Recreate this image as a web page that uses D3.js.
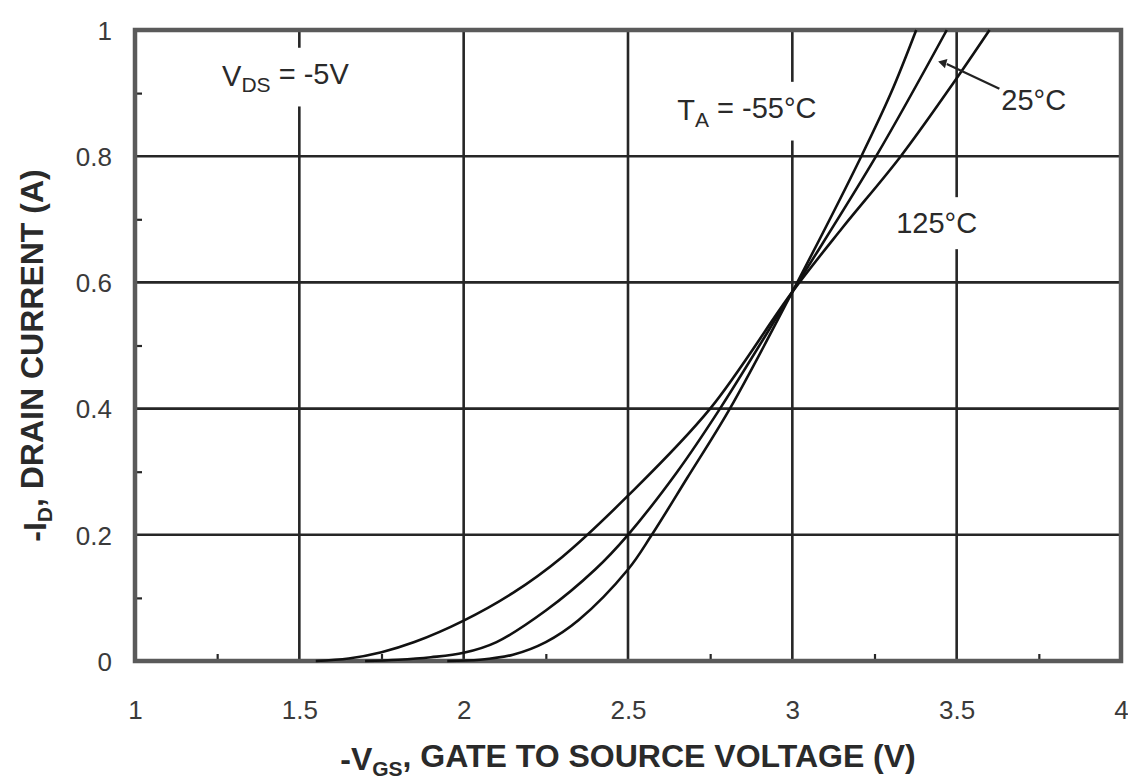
<!DOCTYPE html>
<html>
<head>
<meta charset="utf-8">
<script src="https://cdn.jsdelivr.net/npm/d3@7"></script>
<style>
  body { margin: 0; background: #fff; }
  svg { display: block; font-family: "Liberation Sans", Arial, sans-serif; }
</style>
</head>
<body>
<div id="chart-area"></div>
<script>
const WIDTH = 1128;
const HEIGHT = 783;

// -V_GS (V) and -I_D (A)
const vgs_125 = [1.55, 1.65, 1.75, 1.85, 2.0, 2.15, 2.3, 2.5, 2.75, 3.0, 3.15, 3.33, 3.49, 3.6];
const id_125 = [0, 0.004, 0.014, 0.03, 0.064, 0.108, 0.165, 0.262, 0.4, 0.585, 0.685, 0.8, 0.916, 1.0];

const vgs_25 = [1.7, 1.8, 1.9, 2.0, 2.1, 2.25, 2.4, 2.5, 2.65, 2.78, 3.0, 3.255, 3.47];
const id_25 = [0, 0.002, 0.006, 0.013, 0.03, 0.08, 0.145, 0.2, 0.3, 0.4, 0.585, 0.8, 1.0];

const vgs_m55 = [1.95, 2.05, 2.15, 2.25, 2.35, 2.5, 2.57, 2.68, 2.81, 3.0, 3.21, 3.3, 3.377];
const id_m55 = [0, 0.002, 0.01, 0.03, 0.065, 0.145, 0.198, 0.29, 0.4, 0.585, 0.8, 0.9, 1.0];

const x_ticks = [1, 1.5, 2, 2.5, 3, 3.5, 4];
const x_tick_labels = ["1", "1.5", "2", "2.5", "3", "3.5", "4"];
const y_ticks = [0, 0.2, 0.4, 0.6, 0.8, 1];
const y_tick_labels = ["0", "0.2", "0.4", "0.6", "0.8", "1"];
const x_minor = [1.25, 1.75, 2.25, 2.75, 3.25, 3.75];
const y_minor = [0.1, 0.3, 0.5, 0.7, 0.9];

const margin = {top: 30, right: 7, bottom: 122, left: 135};

let svg = d3.select("#chart-area")
    .append("svg")
    .attr("width", WIDTH)
    .attr("height", HEIGHT);

let x = d3.scaleLinear()
    .domain([1, 4])
    .range([margin.left, WIDTH - margin.right]);

let y = d3.scaleLinear()
    .domain([0, 1])
    .range([HEIGHT - margin.bottom, margin.top]);

// grid
let grid = svg.append("g").attr("class", "grid");

grid.selectAll("line.vgrid")
    .data(x_ticks.slice(1, -1))
    .enter()
    .append("line")
    .attr("class", "vgrid")
    .attr("x1", d => x(d))
    .attr("x2", d => x(d))
    .attr("y1", y(0))
    .attr("y2", y(1))
    .attr("stroke", "#262626")
    .attr("stroke-width", 2.6);

grid.selectAll("line.hgrid")
    .data(y_ticks.slice(1, -1))
    .enter()
    .append("line")
    .attr("class", "hgrid")
    .attr("x1", x(1))
    .attr("x2", x(4))
    .attr("y1", d => y(d))
    .attr("y2", d => y(d))
    .attr("stroke", "#262626")
    .attr("stroke-width", 2.6);

// minor ticks on left and bottom
let minorBottom = d3.axisBottom(x).tickValues(x_minor).tickSize(-7).tickFormat("");
svg.append("g")
    .attr("transform", `translate(0, ${y(0)})`)
    .call(minorBottom)
    .call(g => g.select(".domain").remove())
    .call(g => g.selectAll("line").attr("stroke", "#262626").attr("stroke-width", 2.2));

let minorLeft = d3.axisLeft(y).tickValues(y_minor).tickSize(-7).tickFormat("");
svg.append("g")
    .attr("transform", `translate(${x(1)}, 0)`)
    .call(minorLeft)
    .call(g => g.select(".domain").remove())
    .call(g => g.selectAll("line").attr("stroke", "#262626").attr("stroke-width", 2.2));

// tick labels
let xAxis = d3.axisBottom(x)
    .tickValues(x_ticks)
    .tickSize(0)
    .tickPadding(0)
    .tickFormat((d, i) => x_tick_labels[i]);

svg.append("g")
    .attr("transform", `translate(0, ${y(0)})`)
    .call(xAxis)
    .call(g => g.select(".domain").remove())
    .call(g => g.selectAll("text")
        .attr("dy", null)
        .attr("y", 58)
        .attr("fill", "#3a3a3a")
        .style("font-size", "26px")
        .style("font-family", "Liberation Sans, Arial, sans-serif"));

let yAxis = d3.axisLeft(y)
    .tickValues(y_ticks)
    .tickSize(0)
    .tickPadding(23)
    .tickFormat((d, i) => y_tick_labels[i]);

svg.append("g")
    .attr("transform", `translate(${x(1)}, 0)`)
    .call(yAxis)
    .call(g => g.select(".domain").remove())
    .call(g => g.selectAll("text")
        .attr("dy", "0.36em")
        .attr("fill", "#3a3a3a")
        .style("font-size", "26px")
        .style("font-family", "Liberation Sans, Arial, sans-serif"));

// frame
svg.append("rect")
    .attr("x", x(1))
    .attr("y", y(1))
    .attr("width", x(4) - x(1))
    .attr("height", y(0) - y(1))
    .attr("fill", "none")
    .attr("stroke", "#5a5a5a")
    .attr("stroke-width", 4.5);

// annotation labels, with white patch behind so the grid is broken
function addLabel(vx, iy, main, sub, rest) {
    let g = svg.append("g");
    let t = g.append("text")
        .attr("x", x(vx))
        .attr("y", y(iy))
        .attr("fill", "#2a2a2a")
        .style("font-size", "29px");
    t.append("tspan").text(main);
    if (sub) {
        t.append("tspan").attr("dy", "0.3em").style("font-size", "21px").text(sub);
        t.append("tspan").attr("dy", "-0.3em").text(rest);
    }
    let bb = t.node().getBBox();
    g.insert("rect", "text")
        .attr("x", bb.x - 6)
        .attr("y", bb.y - 10)
        .attr("width", bb.width + 12)
        .attr("height", bb.height + 20)
        .attr("fill", "#fff");
}

addLabel(1.265, 0.911, "V", "DS", " = -5V");
addLabel(2.65, 0.857, "T", "A", " = -55\u00B0C");
addLabel(3.316, 0.678, "125\u00B0C");
addLabel(3.636, 0.874, "25\u00B0C");

// curves
let line = d3.line()
    .x(d => x(d[0]))
    .y(d => y(d[1]))
    .curve(d3.curveCatmullRom.alpha(0.5));

let series = [
    d3.zip(vgs_125, id_125),
    d3.zip(vgs_25, id_25),
    d3.zip(vgs_m55, id_m55)
];

svg.selectAll("path.curve")
    .data(series)
    .enter()
    .append("path")
    .attr("class", "curve")
    .attr("d", line)
    .attr("fill", "none")
    .attr("stroke", "#111")
    .attr("stroke-width", 2.6);

// leader from 25°C label to its curve
svg.append("line")
    .attr("x1", x(3.63))
    .attr("y1", y(0.907))
    .attr("x2", x(3.47))
    .attr("y2", y(0.946))
    .attr("stroke", "#222")
    .attr("stroke-width", 2.2);

svg.append("path")
    .attr("d", d3.symbol().type(d3.symbolTriangle).size(40))
    .attr("transform", `translate(${x(3.46)}, ${y(0.948)}) rotate(-75)`)
    .attr("fill", "#222");

// axis titles
let xTitle = svg.append("text")
    .attr("x", (x(1) + x(4)) / 2)
    .attr("y", 770)
    .attr("text-anchor", "middle")
    .attr("fill", "#2a2a2a")
    .style("font-size", "32px")
    .style("font-weight", "bold");
xTitle.append("tspan").text("-V");
xTitle.append("tspan").attr("dy", "0.3em").style("font-size", "21px").text("GS");
xTitle.append("tspan").attr("dy", "-0.3em").text(", GATE TO SOURCE VOLTAGE (V)");

let yTitle = svg.append("text")
    .attr("transform", `translate(46, ${(y(0) + y(1)) / 2 + 10}) rotate(-90)`)
    .attr("text-anchor", "middle")
    .attr("fill", "#2a2a2a")
    .style("font-size", "32px")
    .style("font-weight", "bold");
yTitle.append("tspan").text("-I");
yTitle.append("tspan").attr("dy", "0.3em").style("font-size", "21px").text("D");
yTitle.append("tspan").attr("dy", "-0.3em").text(", DRAIN CURRENT (A)");
</script>
</body>
</html>
